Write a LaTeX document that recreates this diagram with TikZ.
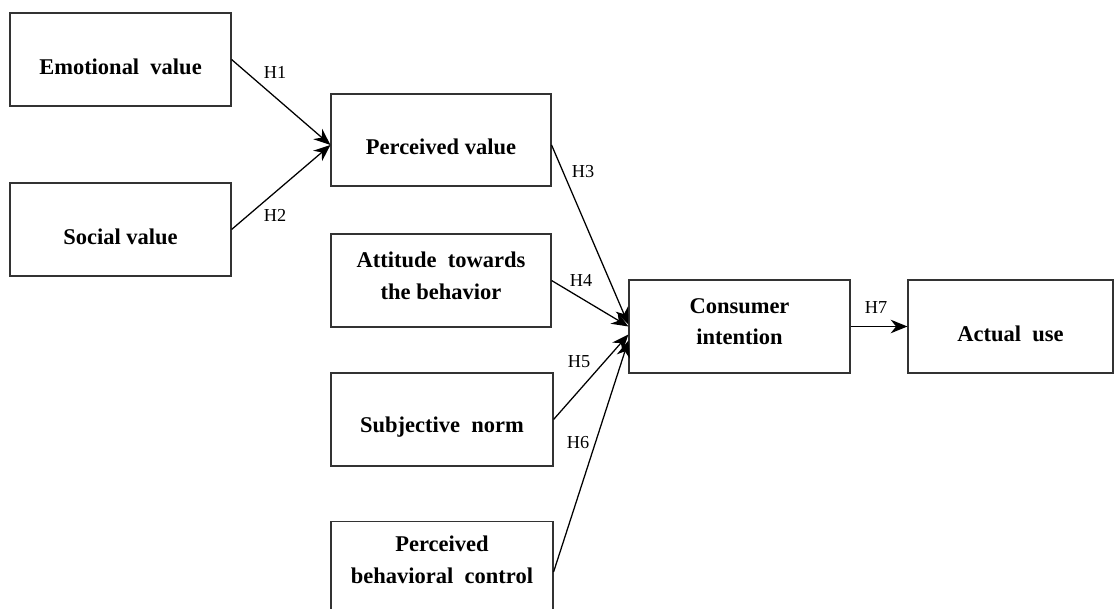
\documentclass[tikz,border=0pt]{standalone}
\usepackage{fontspec}
\setmainfont{Liberation Serif}
\usetikzlibrary{arrows.meta,calc}

\begin{document}
\begin{tikzpicture}[>={Stealth[length=4.2mm,width=3.4mm]},
  box/.style={draw=black!80,line width=0.8pt,minimum width=55.25mm,minimum height=23.25mm,
    align=center,font=\fontsize{16}{22.5}\selectfont\bfseries},
  one/.style={text height=7.5mm},
  two/.style={text depth=2.5mm},
  hyp/.style={font=\fontsize{13}{15}\selectfont},
  link/.style={->,line width=0.9pt}]
  \useasboundingbox (0,0) rectangle (27.85,-15.225);
  \clip (0,0) rectangle (27.85,-15.225);
  \node[box,one] (emo) at (3.0125,-1.4875) {Emotional\ \ value};
  \node[box,one] (soc) at (3.0125,-5.7375) {Social value};
  \node[box,one,minimum width=55mm,minimum height=23mm] (pv) at (11.025,-3.5) {Perceived value};
  \node[box,two,minimum width=55mm] (att) at (11.025,-7.0125) {Attitude\ \ towards\\ the behavior};
  \node[box,one,minimum width=55.5mm] (sn) at (11.05,-10.4875) {Subjective\ \ norm};
  \node[box,minimum width=55.5mm,text depth=4mm] (pbc) at (11.05,-14.2) {Perceived\\ behavioral\ \ control};
  \node[box,two] (ci) at (18.4875,-8.1625) {Consumer\\ intention};
  \node[box,one,minimum width=51.25mm] (au) at (25.2625,-8.1625) {Actual\ \ use};
  % hypotheses
  \draw[link] (emo.east) -- ($(pv.west)+(0,-0.125)$);
  \draw[link] (soc.east) -- ($(pv.west)+(0,-0.125)$);
  \draw[link] ($(pv.east)+(0,-0.125)$) -- ($(ci.west)+(0,0.05)$);
  \draw[link] (att.east) -- (ci.west);
  \draw[link] (sn.east) -- ($(ci.west)+(0,-0.2)$);
  \draw[link] ($(pbc.east)+(0,-0.1)$) -- ($(ci.west)+(0,-0.35)$);
  \draw[link] (ci.east) -- (au.west);
  \node[hyp] (h1) at (6.875,-1.8) {H1};
  \node[hyp] (h2) at (6.875,-5.375) {H2};
  \node[hyp] (h3) at (14.575,-4.3) {H3};
  \node[hyp] (h4) at (14.525,-7.0) {H4};
  \node[hyp] (h5) at (14.475,-9.05) {H5};
  \node[hyp] (h6) at (14.45,-11.075) {H6};
  \node[hyp] (h7) at (21.9,-7.7) {H7};
\end{tikzpicture}
\end{document}
